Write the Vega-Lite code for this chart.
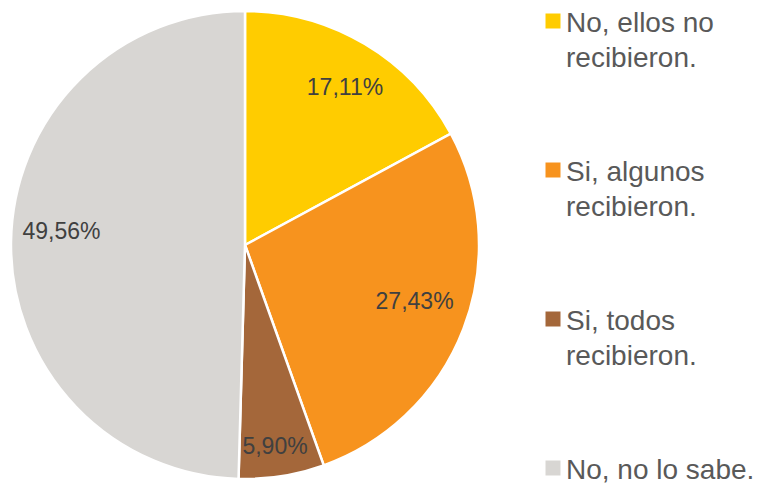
{
  "$schema": "https://vega.github.io/schema/vega-lite/v6.json",
  "width": 490,
  "height": 490,
  "padding": 0,
  "background": "white",
  "data": {
    "values": [
      {"respuesta": "No, ellos no recibieron.", "porcentaje": 17.11, "orden": 1, "etiqueta": "17,11%"},
      {"respuesta": "Si, algunos recibieron.", "porcentaje": 27.43, "orden": 2, "etiqueta": "27,43%"},
      {"respuesta": "Si, todos recibieron.", "porcentaje": 5.90, "orden": 3, "etiqueta": "5,90%"},
      {"respuesta": "No, no lo sabe.", "porcentaje": 49.56, "orden": 4, "etiqueta": "49,56%"}
    ]
  },
  "encoding": {
    "theta": {"field": "porcentaje", "type": "quantitative", "stack": true},
    "order": {"field": "orden", "type": "quantitative"}
  },
  "layer": [
    {
      "mark": {"type": "arc", "outerRadius": 234, "stroke": "white", "strokeWidth": 2.5},
      "encoding": {
        "color": {
          "field": "respuesta",
          "type": "nominal",
          "sort": ["No, ellos no recibieron.", "Si, algunos recibieron.", "Si, todos recibieron.", "No, no lo sabe."],
          "scale": {
            "domain": ["No, ellos no recibieron.", "Si, algunos recibieron.", "Si, todos recibieron.", "No, no lo sabe."],
            "range": ["#FFCC00", "#F7931E", "#A4673A", "#D8D6D3"]
          },
          "legend": {
            "title": null,
            "orient": "right",
            "offset": 42,
            "padding": 7,
            "symbolType": "square",
            "symbolSize": 225,
            "symbolStrokeWidth": 0,
            "labelFont": "Liberation Sans",
            "labelFontSize": 28,
            "labelColor": "#595959",
            "labelLimit": 0,
            "labelOffset": -1,
            "labelBaseline": "top",
            "rowPadding": 83,
            "labelExpr": "split(replace(datum.label, ' recibieron.', '|recibieron.'), '|')"
          }
        }
      }
    },
    {
      "mark": {"type": "text", "radius": 186, "thetaOffset": 0.03, "font": "Liberation Sans", "fontSize": 23, "color": "#404040"},
      "encoding": {"text": {"condition": {"test": "datum.orden == 1", "field": "etiqueta"}, "value": ""}}
    },
    {
      "mark": {"type": "text", "radius": 179, "thetaOffset": -0.04, "font": "Liberation Sans", "fontSize": 23, "color": "#404040"},
      "encoding": {"text": {"condition": {"test": "datum.orden == 2", "field": "etiqueta"}, "value": ""}}
    },
    {
      "mark": {"type": "text", "radius": 204, "thetaOffset": 0.01, "font": "Liberation Sans", "fontSize": 23, "color": "#404040"},
      "encoding": {"text": {"condition": {"test": "datum.orden == 3", "field": "etiqueta"}, "value": ""}}
    },
    {
      "mark": {"type": "text", "radius": 184, "thetaOffset": 0.059, "font": "Liberation Sans", "fontSize": 23, "color": "#404040"},
      "encoding": {"text": {"condition": {"test": "datum.orden == 4", "field": "etiqueta"}, "value": ""}}
    }
  ],
  "config": {
    "view": {"stroke": null},
    "style": {"guide-label": {"lineHeight": 35, "dy": -11}}
  }
}
